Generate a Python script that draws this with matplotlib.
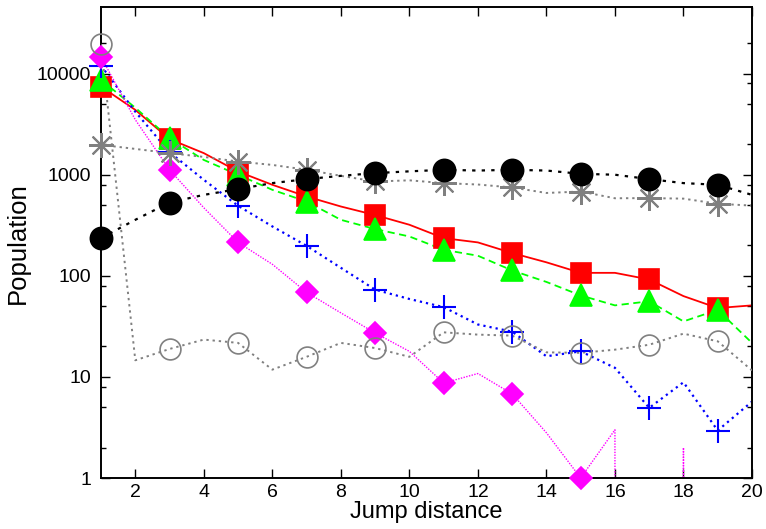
import numpy as np
import matplotlib
matplotlib.use('Agg')
import matplotlib.pyplot as plt
from matplotlib.ticker import FixedLocator, NullLocator, FixedFormatter

plt.rcParams['font.family'] = ['Liberation Sans', 'DejaVu Sans']

# Jump distance 1..20
jump = np.arange(1, 21)

red_sq = [7440, 4380, 2250, 1635, 1075, 795, 609, 485, 399, 320,
          236, 214, 168, 136, 107, 107, 92, 63, 48, 51]
green_tri = [8670, 4600, 2300, 1400, 998, 709, 543, 358, 290, 245,
             181, 158, 113, 87, 64, 51, 56, 35.4, 46, 21.7]
blue_plus = [12000, 4200, 1670, 890, 493, 308, 198, 120, 73, 59,
             49, 33, 28, 16, 17.9, 12.3, 4.94, 8.85, 2.95, 5.7]
magenta_dia = [14600, 3500, 1118, 471, 214, 130, 68.6, 43, 27.2, 17.9,
               8.7, 10.8, 6.8, 2.8, 1, 3, 0, 2, 0, 0]
gray_star = [1975, 1800, 1635, 1500, 1350, 1250, 1120, 975, 857, 880,
             826, 800, 748, 660, 682, 585, 587, 580, 516, 495]
black_circ = [236, 358, 531, 632, 721, 826, 905, 975, 1037, 1080,
              1118, 1100, 1118, 1100, 1021, 1000, 905, 826, 795, 632]
gray_circ = [19500, 14.6, 18.9, 23.4, 21.7, 11.8, 15.8, 21.7, 19.3, 15.8,
             27.6, 26.2, 25.6, 17.5, 17.3, 18.6, 20.8, 26.8, 22.5, 11.6]

y_major = [1, 10, 100, 1000, 10000]
y_minor = [m * 10 ** k for k in range(5) for m in (2, 5, 8)]
x_major = list(range(2, 21, 2))

# (data, color, linestyle, lw, marker, ms, filled)
series = [
    (red_sq, '#ff0000', '-', 1.3, 's', 15, True),
    (green_tri, '#00ff00', (0, (4, 2.5)), 1.3, '^', 16, True),
    (blue_plus, '#0000ff', (0, (1, 1.8)), 1.6, '+', 17, True),
    (magenta_dia, '#ff00ff', (0, (1, 1)), 1.0, 'D', 11, True),
    (gray_star, '#808080', (0, (1.2, 2)), 1.4, (8, 2, 0), 18, True),
    (black_circ, '#000000', (0, (1.5, 2.8)), 1.6, 'o', 16, True),
    (gray_circ, '#808080', (0, (1.2, 2)), 1.4, 'o', 15, False),
]

fig = plt.figure(figsize=(7.66, 5.29), dpi=100)
ax = fig.add_axes([0.1319, 0.0964, 0.8498, 0.8898])
ax.set_yscale('log', nonpositive='clip')

for i, (vals, col, ls, lw, mk, ms, filled) in enumerate(series):
    vals = np.array(vals, dtype=float)
    ax.plot(jump, vals, color=col, linestyle=ls, linewidth=lw, zorder=2 + i * 0.1)
    pts = np.where(vals > 0, vals, np.nan)
    ax.plot(jump[::2], pts[::2], linestyle='none', marker=mk, markersize=ms,
            color=col, markerfacecolor=col if filled else 'none',
            markeredgewidth=1.5 if mk in ('+', (8, 2, 0)) else 1.2,
            clip_on=False, zorder=3 + i * 0.1)

ax.set_xlim(1, 20)
ax.set_ylim(1, 45300)

ax.xaxis.set_major_locator(FixedLocator(x_major))
ax.xaxis.set_minor_locator(NullLocator())
ax.yaxis.set_major_locator(FixedLocator(y_major))
ax.yaxis.set_major_formatter(FixedFormatter([str(v) for v in y_major]))
ax.yaxis.set_minor_locator(FixedLocator(y_minor))
ax.yaxis.set_minor_formatter(FixedFormatter([''] * len(y_minor)))

ax.tick_params(which='both', direction='in', top=True, right=True,
               labelsize=14, width=1.0)
ax.tick_params(which='major', length=6.5)
ax.tick_params(axis='y', which='major', pad=7)
ax.tick_params(axis='x', which='major', pad=4)
ax.tick_params(which='minor', length=3.5)
for sp in ax.spines.values():
    sp.set_linewidth(1.4)

ax.set_xlabel('Jump distance', fontsize=17, labelpad=0)
ax.set_ylabel('Population', fontsize=18.5, labelpad=5)

fig.savefig('out.png', dpi=100)
